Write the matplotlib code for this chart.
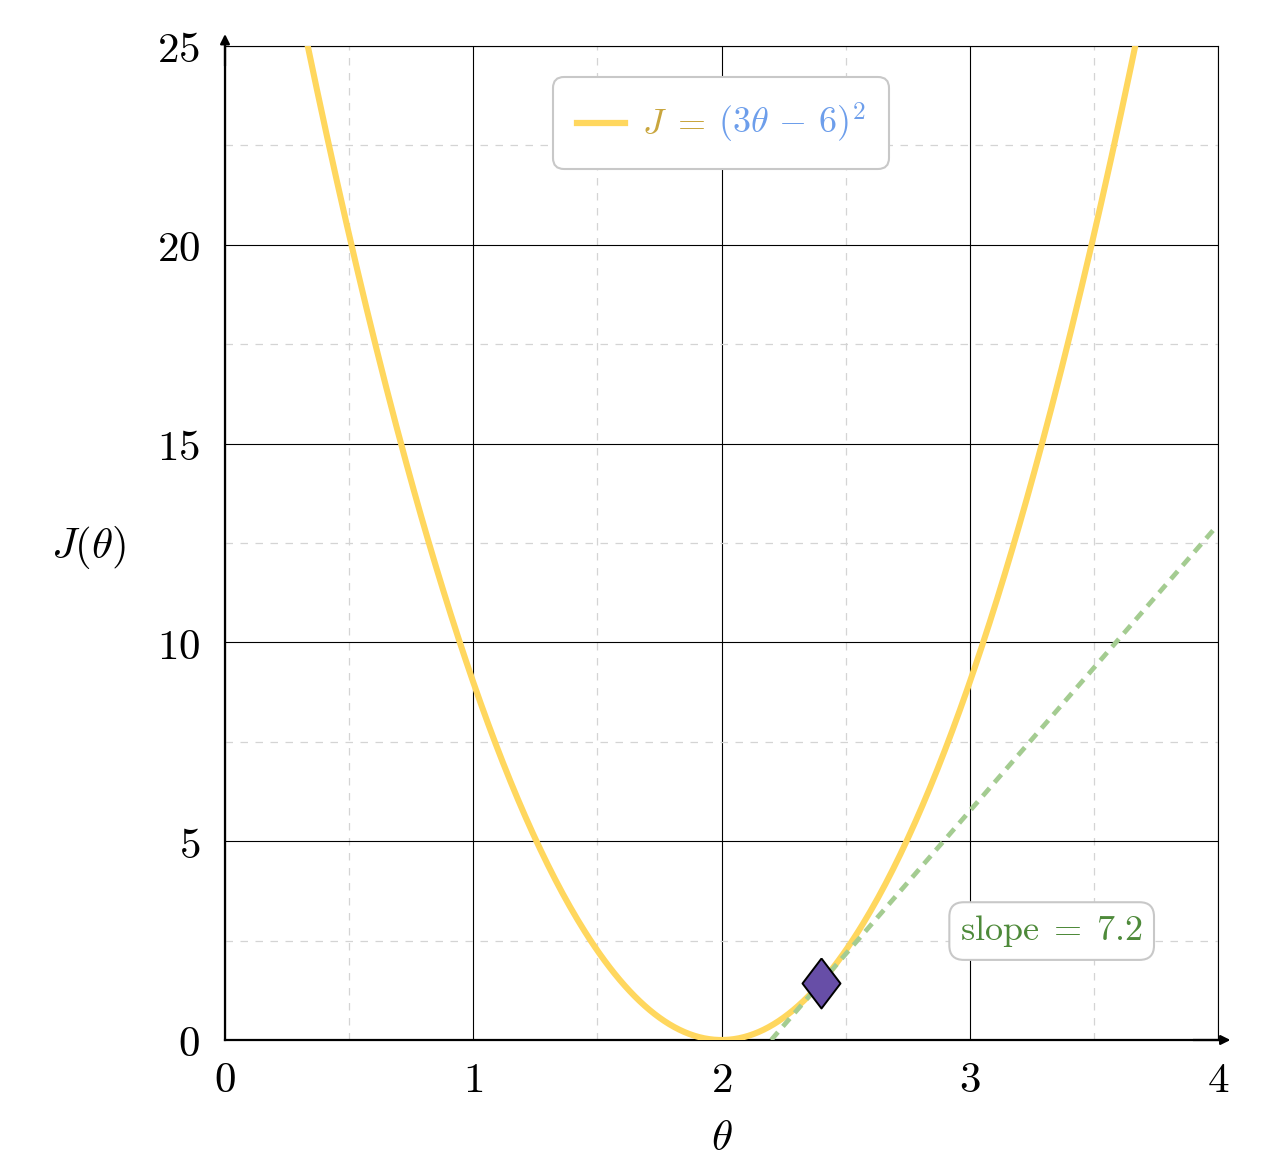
import numpy as np
import matplotlib
matplotlib.use("Agg")
import matplotlib.pyplot as plt
from matplotlib.lines import Line2D
from matplotlib.offsetbox import AnchoredOffsetbox, DrawingArea, HPacker, TextArea

plt.rcParams['mathtext.fontset'] = 'cm'
plt.rcParams['font.family'] = 'serif'
plt.rcParams['font.serif'] = ['DejaVu Serif']

# data
theta = np.linspace(0, 4, 401)
J = (3 * theta - 6) ** 2
theta0 = 2.4
J0 = (3 * theta0 - 6) ** 2
slope = 6 * (3 * theta0 - 6)          # 7.2
tan_theta = np.array([2.2, 3.98])
tan_J = J0 + slope * (tan_theta - theta0)
xticks = [0, 1, 2, 3, 4]
yticks = [0, 5, 10, 15, 20, 25]

gold = '#ffd75e'
gold_text = '#c9a63e'
blue = '#6d9eeb'
green = '#a4cc91'
purple = '#674ea7'

fig = plt.figure(figsize=(12.66, 11.71), dpi=100)
ax = fig.add_axes([225 / 1266, 1 - 1040 / 1171, 993 / 1266, 994 / 1171])

ax.set_xlim(0, 4)
ax.set_ylim(0, 25)

# grid
ax.set_xticks(xticks)
ax.set_yticks(yticks)
ax.set_xticks(np.arange(0.5, 4, 1.0), minor=True)
ax.set_yticks(np.arange(2.5, 25, 5.0), minor=True)
ax.grid(which='major', color='black', linewidth=0.8)
ax.grid(which='minor', color='#d4d4d4', linewidth=0.9, linestyle=(0, (6, 6)))
ax.set_axisbelow(True)
ax.tick_params(which='both', length=0, labelsize=31)
ax.tick_params(axis='y', pad=18)
ax.tick_params(axis='x', pad=14)
ax.set_xticklabels(['$%d$' % v for v in xticks])
ax.set_yticklabels(['$%d$' % v for v in yticks])

for s in ['top', 'right']:
    ax.spines[s].set_linewidth(0.8)
for s in ['left', 'bottom']:
    ax.spines[s].set_linewidth(1.6)

# arrows on axes
ax.annotate('', xy=(4.05, 0), xytext=(3.9, 0), xycoords='data',
            arrowprops=dict(arrowstyle='-|>', color='black', lw=1.6,
                            mutation_scale=14, shrinkA=0, shrinkB=0),
            annotation_clip=False)
ax.annotate('', xy=(0, 25.3), xytext=(0, 24.5), xycoords='data',
            arrowprops=dict(arrowstyle='-|>', color='black', lw=1.6,
                            mutation_scale=14, shrinkA=0, shrinkB=0),
            annotation_clip=False)

ax.plot(theta, J, color=gold, linewidth=4.4, solid_capstyle='butt', zorder=3)
ax.plot(tan_theta, tan_J, color=green, linewidth=3.4, linestyle=(0, (2.2, 1.6)),
        zorder=4)
diamond = [(0, 1), (0.76, 0), (0, -1), (-0.76, 0), (0, 1)]
ax.plot([theta0], [J0], marker=diamond, markersize=36, color=purple,
        markeredgecolor='black', markeredgewidth=1.4, zorder=5)

ax.text(3.33, 2.74, r'$\mathrm{slope}\;=\;7.2$', color='#4e8a3a', fontsize=26,
        ha='center', va='center', zorder=6,
        bbox=dict(boxstyle='round,pad=0.3,rounding_size=0.4', fc='white',
                  ec='#c8c8c8', lw=1.5))

ax.set_xlabel(r'$\theta$', fontsize=31, labelpad=11)
ax.set_ylabel(r'$J(\theta)$', fontsize=31, rotation=0, va='center')
ax.yaxis.set_label_coords(-0.137, 0.495)

# legend box with a two-coloured label
line_area = DrawingArea(35, 10, 0, 0)
line_area.add_artist(Line2D([0, 35], [5, 5], color=gold, linewidth=4.5))
part1 = TextArea(r'$J\;=$', textprops=dict(color=gold_text, fontsize=26))
part2 = TextArea(r'$(3\theta\,-\,6)^2$', textprops=dict(color=blue, fontsize=26))
label = HPacker(children=[part1, part2], align='baseline', pad=0, sep=9)
row = HPacker(children=[line_area, label], align='center', pad=0, sep=12)
box = AnchoredOffsetbox(loc='upper center', child=row, pad=0.62, borderpad=0,
                        prop=dict(size=28), frameon=True,
                        bbox_to_anchor=(0.4995, 0.969),
                        bbox_transform=ax.transAxes)
box.patch.set_boxstyle('round,pad=0,rounding_size=0.28')
box.patch.set_edgecolor('#c8c8c8')
box.patch.set_linewidth(1.5)
box.set_zorder(7)
ax.add_artist(box)

fig.savefig('out.png', dpi=100)
